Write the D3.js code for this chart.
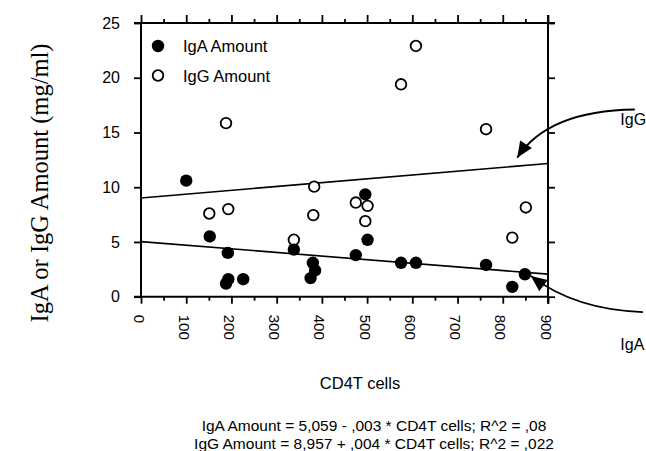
<!DOCTYPE html>
<html>
<head>
<meta charset="utf-8">
<script src="https://cdn.jsdelivr.net/npm/d3@7"></script>
<style>
  html, body { margin: 0; padding: 0; background: #fff; }
  svg { display: block; }
</style>
</head>
<body>
<svg id="chart" width="646" height="451" font-family="Liberation Sans, Arial, sans-serif"></svg>
<script>
// ---- data ----
const igaCD4 = [100, 152, 192, 188, 193, 226, 338, 380, 385, 375, 475, 496, 501, 575, 608, 763, 821, 849];
const igaAmount = [10.6, 5.5, 4.0, 1.2, 1.6, 1.6, 4.3, 3.1, 2.4, 1.7, 3.8, 9.35, 5.2, 3.1, 3.1, 2.9, 0.9, 2.05];
const iggCD4 = [151, 193, 188, 338, 383, 381, 475, 501, 496, 575, 608, 763, 821, 851];
const iggAmount = [7.6, 8.0, 15.85, 5.2, 10.05, 7.45, 8.6, 8.3, 6.9, 19.4, 22.9, 15.3, 5.4, 8.15];
const fitNames = ["IgA", "IgG"];
const fitIntercept = [5.03, 9.02];
const fitSlope = [-0.0033, 0.0035];
const xTicks = [0, 100, 200, 300, 400, 500, 600, 700, 800, 900];
const xMinorTicks = [50, 150, 250, 350, 450, 550, 650, 750, 850];
const yTicks = [0, 5, 10, 15, 20, 25];
const legendLabels = ["IgA Amount", "IgG Amount"];
const equations = [
  "IgA Amount = 5,059 - ,003 * CD4T cells; R^2 = ,08",
  "IgG Amount = 8,957 + ,004 * CD4T cells; R^2 = ,022"
];
// annotation arrows in data units: [startX, startY, ctrlX, ctrlY, tipX, tipY]
const arrowIgG = [1092, 17.1, 900, 17.0, 832, 12.7];
const arrowIgA = [1110, -1.4, 960, -1.2, 862, 1.9];
const annotLabels = [["IgG", 1060, 15.7], ["IgA", 1060, -4.9]];

// ---- layout ----
const svg = d3.select("#chart");
const L = 141, R = 548, T = 23, B = 296.7;
const x = d3.scaleLinear().domain([0, 900]).range([L, R]);
const y = d3.scaleLinear().domain([0, 25]).range([B, T]);
const SANS = "Liberation Sans, Arial, sans-serif";

const g = svg.append("g");

// regression lines
fitNames.forEach((n, i) => {
  g.append("line")
    .attr("x1", x(0)).attr("y1", y(fitIntercept[i]))
    .attr("x2", x(900)).attr("y2", y(fitIntercept[i] + fitSlope[i] * 900))
    .attr("stroke", "#000").attr("stroke-width", 1.6);
});

// axes
const axisBottom = d3.axisBottom(x).tickValues(xTicks).tickSize(7).tickFormat(d3.format("d"));
const axisTop = d3.axisTop(x).tickValues(xTicks).tickSize(8).tickFormat("");
const axisLeft = d3.axisLeft(y).tickValues(yTicks).tickSize(7).tickFormat(d3.format("d"));
const axisRight = d3.axisRight(y).tickValues(yTicks).tickSize(7).tickFormat("");

function style(sel) {
  sel.select(".domain").remove();
  sel.attr("font-family", SANS);
  sel.selectAll("line").attr("stroke", "#000").attr("stroke-width", 1.8);
}
const gb = g.append("g").attr("transform", `translate(0,${B})`).call(axisBottom).call(style);
gb.selectAll("text")
  .attr("x", 0).attr("y", 0).attr("dy", null)
  .attr("text-anchor", "start")
  .attr("transform", "translate(-8,18) rotate(90)")
  .attr("font-size", 15)
  .attr("fill", "#000");
g.append("g").attr("transform", `translate(0,${B})`)
  .call(d3.axisBottom(x).tickValues(xMinorTicks).tickSize(4).tickFormat("")).call(style);
g.append("g").attr("transform", `translate(0,${T})`).call(axisTop).call(style);
g.append("g").attr("transform", `translate(0,${T})`)
  .call(d3.axisTop(x).tickValues(xMinorTicks).tickSize(4).tickFormat("")).call(style);
const gl = g.append("g").attr("transform", `translate(${L},0)`).call(axisLeft).call(style);
gl.selectAll("text").attr("font-size", 16).attr("x", -21).attr("fill", "#000");
g.append("g").attr("transform", `translate(${R},0)`).call(axisRight).call(style);

// frame lines
g.append("line").attr("x1", L - 7).attr("x2", R).attr("y1", B).attr("y2", B).attr("stroke", "#000").attr("stroke-width", 2);
g.append("line").attr("x1", L - 7).attr("x2", R + 7).attr("y1", T).attr("y2", T).attr("stroke", "#000").attr("stroke-width", 2);
g.append("line").attr("x1", L).attr("x2", L).attr("y1", T).attr("y2", B).attr("stroke", "#000").attr("stroke-width", 2);
g.append("line").attr("x1", R).attr("x2", R).attr("y1", T - 8).attr("y2", B + 7).attr("stroke", "#000").attr("stroke-width", 2);

// points
g.selectAll("circle.igg").data(iggCD4).join("circle").attr("class", "igg")
  .attr("cx", d => x(d)).attr("cy", (d, i) => y(iggAmount[i])).attr("r", 5.3)
  .attr("fill", "#fff").attr("stroke", "#000").attr("stroke-width", 1.8);
g.selectAll("circle.iga").data(igaCD4).join("circle").attr("class", "iga")
  .attr("cx", d => x(d)).attr("cy", (d, i) => y(igaAmount[i])).attr("r", 6.2)
  .attr("fill", "#000");

// legend
const lg = g.append("g").attr("font-family", SANS);
legendLabels.forEach((lab, i) => {
  const cy = 46 + i * 29.5;
  if (i === 0) lg.append("circle").attr("cx", 158).attr("cy", cy).attr("r", 6.2).attr("fill", "#000");
  else lg.append("circle").attr("cx", 158).attr("cy", cy).attr("r", 5.3).attr("fill", "#fff").attr("stroke", "#000").attr("stroke-width", 1.8);
  lg.append("text").attr("x", 183).attr("y", cy + 6).attr("font-size", 16.5).text(lab);
});

// annotation arrows
function arrow(a) {
  const p = d3.path();
  p.moveTo(x(a[0]), y(a[1]));
  p.quadraticCurveTo(x(a[2]), y(a[3]), x(a[4]), y(a[5]));
  g.append("path").attr("d", p.toString()).attr("fill", "none").attr("stroke", "#000").attr("stroke-width", 1.8);
  const tx = x(a[4]), ty = y(a[5]);
  const ang = Math.atan2(ty - y(a[3]), tx - x(a[2]));
  const len = 16, w = 7;
  const bx = tx - len * Math.cos(ang), by = ty - len * Math.sin(ang);
  const px = -Math.sin(ang) * w, py = Math.cos(ang) * w;
  g.append("path")
    .attr("d", `M${tx},${ty}L${bx + px},${by + py}L${bx - px},${by - py}Z`)
    .attr("fill", "#000");
}
arrow(arrowIgG);
arrow(arrowIgA);
annotLabels.forEach(a => {
  g.append("text").attr("x", x(a[1])).attr("y", y(a[2])).attr("font-size", 16)
    .attr("font-family", SANS).text(a[0]);
});

// axis titles
svg.append("text").attr("x", 360).attr("y", 389).attr("text-anchor", "middle")
  .attr("font-family", SANS).attr("font-size", 16.5).text("CD4T cells");
svg.append("text")
  .attr("transform", "translate(48,183) rotate(-90)")
  .attr("text-anchor", "middle")
  .attr("font-family", "Liberation Serif, 'Times New Roman', serif")
  .attr("font-size", 24.5).text("IgA or IgG Amount (mg/ml)");

// equations
equations.forEach((t, i) => {
  svg.append("text").attr("x", 374).attr("y", 431 + i * 18).attr("text-anchor", "middle")
    .attr("font-family", SANS).attr("font-size", 15.5).text(t);
});
</script>
</body>
</html>
